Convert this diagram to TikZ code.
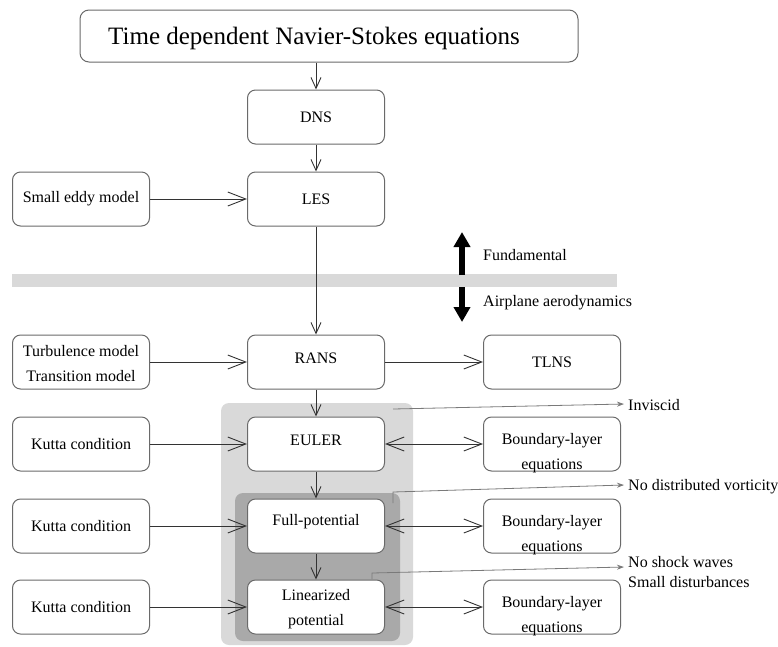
\documentclass[tikz,border=0pt]{standalone}
\usepackage{fontspec}
\setmainfont{Liberation Serif}
\usetikzlibrary{arrows.meta}
\definecolor{boxline}{HTML}{6A6A6A}
\definecolor{arrline}{HTML}{333333}
\definecolor{lightreg}{HTML}{D9D9D9}
\definecolor{darkreg}{HTML}{A9A9A9}
\definecolor{annline}{HTML}{7A7A7A}
\tikzset{
  stage/.style={draw=boxline, line width=1pt, rounded corners=8pt, fill=white,
    minimum width=137pt, minimum height=54pt, inner sep=0pt, align=center,
    font=\fontsize{16}{25}\selectfont},
  txt/.style={inner sep=0pt, align=center, font=\fontsize{16}{25}\selectfont},
  vflow/.style={draw=arrline, line width=0.9pt, -{Straight Barb[length=11pt,width=10pt,line width=0.9pt]}},
  hflow/.style={draw=arrline, line width=0.9pt, -{Straight Barb[length=18pt,width=14pt,line width=0.9pt]}},
  dflow/.style={draw=arrline, line width=0.9pt, {Straight Barb[length=18pt,width=14pt,line width=0.9pt]}-{Straight Barb[length=18pt,width=14pt,line width=0.9pt]}},
  annarrow/.style={draw=annline, line width=0.8pt, -{Stealth[length=7pt,width=5pt]}},
  bigarrow/.style={draw=black, line width=6pt, -{Triangle[length=15pt,width=16pt]}},
  lbl/.style={anchor=west, inner sep=0pt, font=\fontsize{16}{20}\selectfont, align=left},
}
\begin{document}
\begin{tikzpicture}[x=1pt,y=-1pt]
\useasboundingbox (0,0) rectangle (778,646);
% background regions
\fill[lightreg] (12,274) rectangle (617,287);
\fill[lightreg, rounded corners=8pt] (221,403) rectangle (413,645);
\fill[darkreg, rounded corners=8pt] (235,493) rectangle (400,641);
% title
\node[draw=boxline, line width=1pt, rounded corners=9pt, fill=white,
  minimum width=498pt, minimum height=52pt, inner sep=0pt] (title) at (329,36) {};
\node[anchor=west, inner sep=0pt, font=\fontsize{25}{28}\selectfont] (titletext) at (108,38) {Time dependent Navier-Stokes equations};
% main column
\node[stage] (dns) at (316,117) {DNS};
\node[stage] (les) at (316,199) {LES};
\node[stage] (eddy) at (81,199) {Small eddy model};
\node[stage] (rans) at (316,362) {};
\node[txt] (ranstxt) at ([yshift=4pt]rans.center) {RANS};
\node[stage] (turb) at (81,362) {};
\node[txt] (turbtxt) at ([yshift=-2pt]turb.center) {Turbulence model\\Transition model};
\node[stage] (tlns) at (552,362) {TLNS};
\node[stage] (euler) at (316,444) {};
\node[txt] (eulertxt) at ([yshift=4pt]euler.center) {EULER};
\node[stage] (kutta1) at (81,444) {Kutta condition};
\node[stage] (bl1) at (552,444) {};
\node[txt] (bl1txt) at ([yshift=-9pt]bl1.center) {Boundary-layer\\equations};
\node[stage] (full) at (316,526) {};
\node[txt] (fulltxt) at ([yshift=4pt]full.center) {Full-potential};
\node[stage] (kutta2) at (81,526) {Kutta condition};
\node[stage] (bl2) at (552,526) {};
\node[txt] (bl2txt) at ([yshift=-9pt]bl2.center) {Boundary-layer\\equations};
\node[stage] (lin) at (316,607) {};
\node[txt] (lintxt) at ([yshift=-2pt]lin.center) {Linearized\\potential};
\node[stage] (kutta3) at (81,607) {Kutta condition};
\node[stage] (bl3) at (552,607) {};
\node[txt] (bl3txt) at ([yshift=-9pt]bl3.center) {Boundary-layer\\equations};
% flows
\draw[vflow] (dns.north |- title.south) -- (dns.north);
\draw[vflow] (dns) -- (les);
\draw[vflow] (les) -- (rans);
\draw[vflow] (rans) -- (euler);
\draw[vflow] (euler) -- (full);
\draw[vflow] (full) -- (lin);
\draw[hflow] (eddy) -- (les);
\draw[hflow] (turb) -- (rans);
\draw[hflow] (rans) -- (tlns);
\draw[hflow] (kutta1) -- (euler);
\draw[hflow] (kutta2) -- (full);
\draw[hflow] (kutta3) -- (lin);
\draw[dflow] (euler) -- (bl1);
\draw[dflow] (full) -- (bl2);
\draw[dflow] (lin) -- (bl3);
% fundamental / airplane
\coordinate (fund0) at (462,275);
\coordinate (fund1) at (462,232);
\coordinate (air0) at (462,287);
\coordinate (air1) at (462,322);
\draw[bigarrow] (fund0) -- (fund1);
\draw[bigarrow] (air0) -- (air1);
\node[lbl] (fundtxt) at (483,255) {Fundamental};
\node[lbl] (airtxt) at (483,303) {Airplane aerodynamics};
% annotations
\node[lbl] (inv) at (628,405) {Inviscid};
\node[lbl] (novort) at (628,487) {No distributed vorticity};
\node[lbl] (noshock) at (628,572) {No shock waves\\Small disturbances};
\coordinate (inv0) at (393,409);
\coordinate (nv0) at (393,503);
\coordinate (nv1) at (393,492);
\coordinate (ns0) at (372,579);
\coordinate (ns1) at (372,573);
\draw[annarrow] (inv0) -- ([xshift=-4pt,yshift=1pt]inv.west);
\draw[annarrow] (nv0) -- (nv1) -- ([xshift=-4pt,yshift=2pt]novort.west);
\draw[annarrow] (ns0) -- (ns1) -- ([xshift=-4pt,yshift=5pt]noshock.west);
\end{tikzpicture}
\end{document}
